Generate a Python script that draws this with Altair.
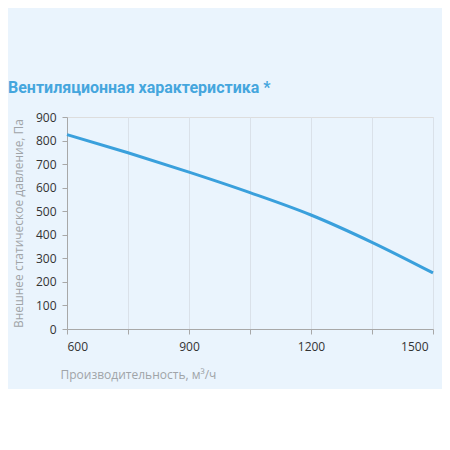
import altair as alt
import pandas as pd

flow = [600, 750, 900, 1050, 1200, 1350, 1500]
pressure = [825, 748, 666, 579, 484, 368, 238]

x_ticks = [600, 750, 900, 1050, 1200, 1350, 1500]
y_ticks = [0, 100, 200, 300, 400, 500, 600, 700, 800, 900]

df = pd.DataFrame({"flow": flow, "pressure": pressure})

chart = alt.Chart(df).mark_line(
    color="#3aa0dc", strokeWidth=3, interpolate="monotone"
).encode(
    x=alt.X(
        "flow:Q",
        scale=alt.Scale(domain=[600, 1500], nice=False, zero=False),
        axis=alt.Axis(
            values=x_ticks,
            labelExpr="datum.value % 300 == 0 ? datum.label : ''",
            labelOffset={"condition": {"test": "datum.value == 1500", "value": -5}, "value": 0},
            format="d",
            title="Производительность, м³/ч",
            titleAnchor="start",
            titleX=-7,
            titleY=40,
            titleColor="#a0a4a8",
            titleFontSize=12,
            titleFontWeight="normal",
            labelColor="#333333",
            labelFontSize=12,
            labelPadding=7,
            grid=True,
            gridColor="#dae1e9",
            gridWidth=1,
            domainColor="#a8a8a8",
            tickColor="#a8a8a8",
            tickSize=5,
        ),
    ),
    y=alt.Y(
        "pressure:Q",
        scale=alt.Scale(domain=[0, 900], nice=False),
        axis=alt.Axis(
            values=y_ticks,
            title="Внешнее статическое давление, Па",
            titleColor="#a0a4a8",
            titleFontSize=12,
            titleFontWeight="normal",
            titlePadding=10,
            labelColor="#333333",
            labelFontSize=12,
            labelPadding=6,
            grid=False,
            domainColor="#a8a8a8",
            tickColor="#a8a8a8",
            tickSize=5,
        ),
    ),
).properties(
    width=366,
    height=212,
    background="#eaf4fd",
    padding={"left": 59, "top": 109, "right": 9, "bottom": 60},
    autosize=alt.AutoSizeParams(type="none"),
    title=alt.TitleParams(
        text="Вентиляционная характеристика *",
        anchor="start",
        frame="group",
        dx=-59,
        offset=15,
        color="#45a6dd",
        fontSize=16,
        fontWeight="bold",
        font="Roboto",
    ),
).configure_view(
    stroke=None
).configure(
    font="Open Sans"
)

chart.save("out.html", embed_options={"renderer": "svg", "actions": False})
